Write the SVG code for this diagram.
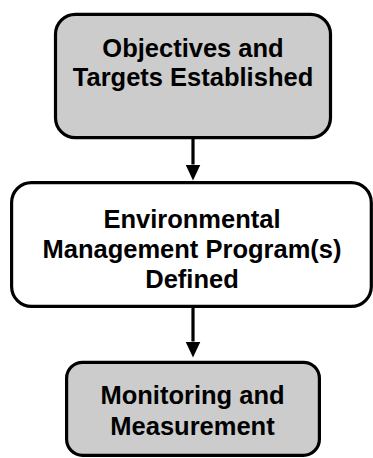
<svg xmlns="http://www.w3.org/2000/svg" width="373" height="458" viewBox="0 0 373 458">
  <style>
    .box { stroke: #000000; stroke-width: 3.2; }
    .gray { fill: #cccccc; }
    .white { fill: #ffffff; }
    .label { font-family: "Liberation Sans", Arial, sans-serif; font-weight: bold; font-size: 25.5px; fill: #000000; text-anchor: middle; }
    .conn { stroke: #000000; stroke-width: 3.2; fill: none; }
  </style>
  <defs>
    <marker id="arrow" markerUnits="userSpaceOnUse" viewBox="0 0 16 15" markerWidth="16" markerHeight="15" refX="0" refY="7.5" orient="auto">
      <path d="M0,0 L16,7.5 L0,15 z" fill="#000000"/>
    </marker>
  </defs>
  <rect width="373" height="458" fill="#ffffff"/>
  <g id="connectors">
    <line class="conn" x1="193" y1="139" x2="193" y2="164.5" marker-end="url(#arrow)"/>
    <line class="conn" x1="193" y1="307.5" x2="193" y2="341.5" marker-end="url(#arrow)"/>
  </g>
  <g id="node-objectives">
    <rect class="box gray" x="55.5" y="14.3" width="275" height="123.4" rx="20" ry="20"/>
    <text class="label" x="193" y="57">Objectives and</text>
    <text class="label" x="193" y="86">Targets Established</text>
  </g>
  <g id="node-emp">
    <rect class="box white" x="11.6" y="182.6" width="359.7" height="123.8" rx="20" ry="20"/>
    <text class="label" x="192" y="227.5">Environmental</text>
    <text class="label" x="192" y="257.5">Management Program(s)</text>
    <text class="label" x="192" y="287.5">Defined</text>
  </g>
  <g id="node-monitoring">
    <rect class="box gray" x="66.6" y="362.3" width="252.8" height="93" rx="16" ry="16"/>
    <text class="label" x="192.5" y="404">Monitoring and</text>
    <text class="label" x="192.5" y="434.5">Measurement</text>
  </g>
</svg>
